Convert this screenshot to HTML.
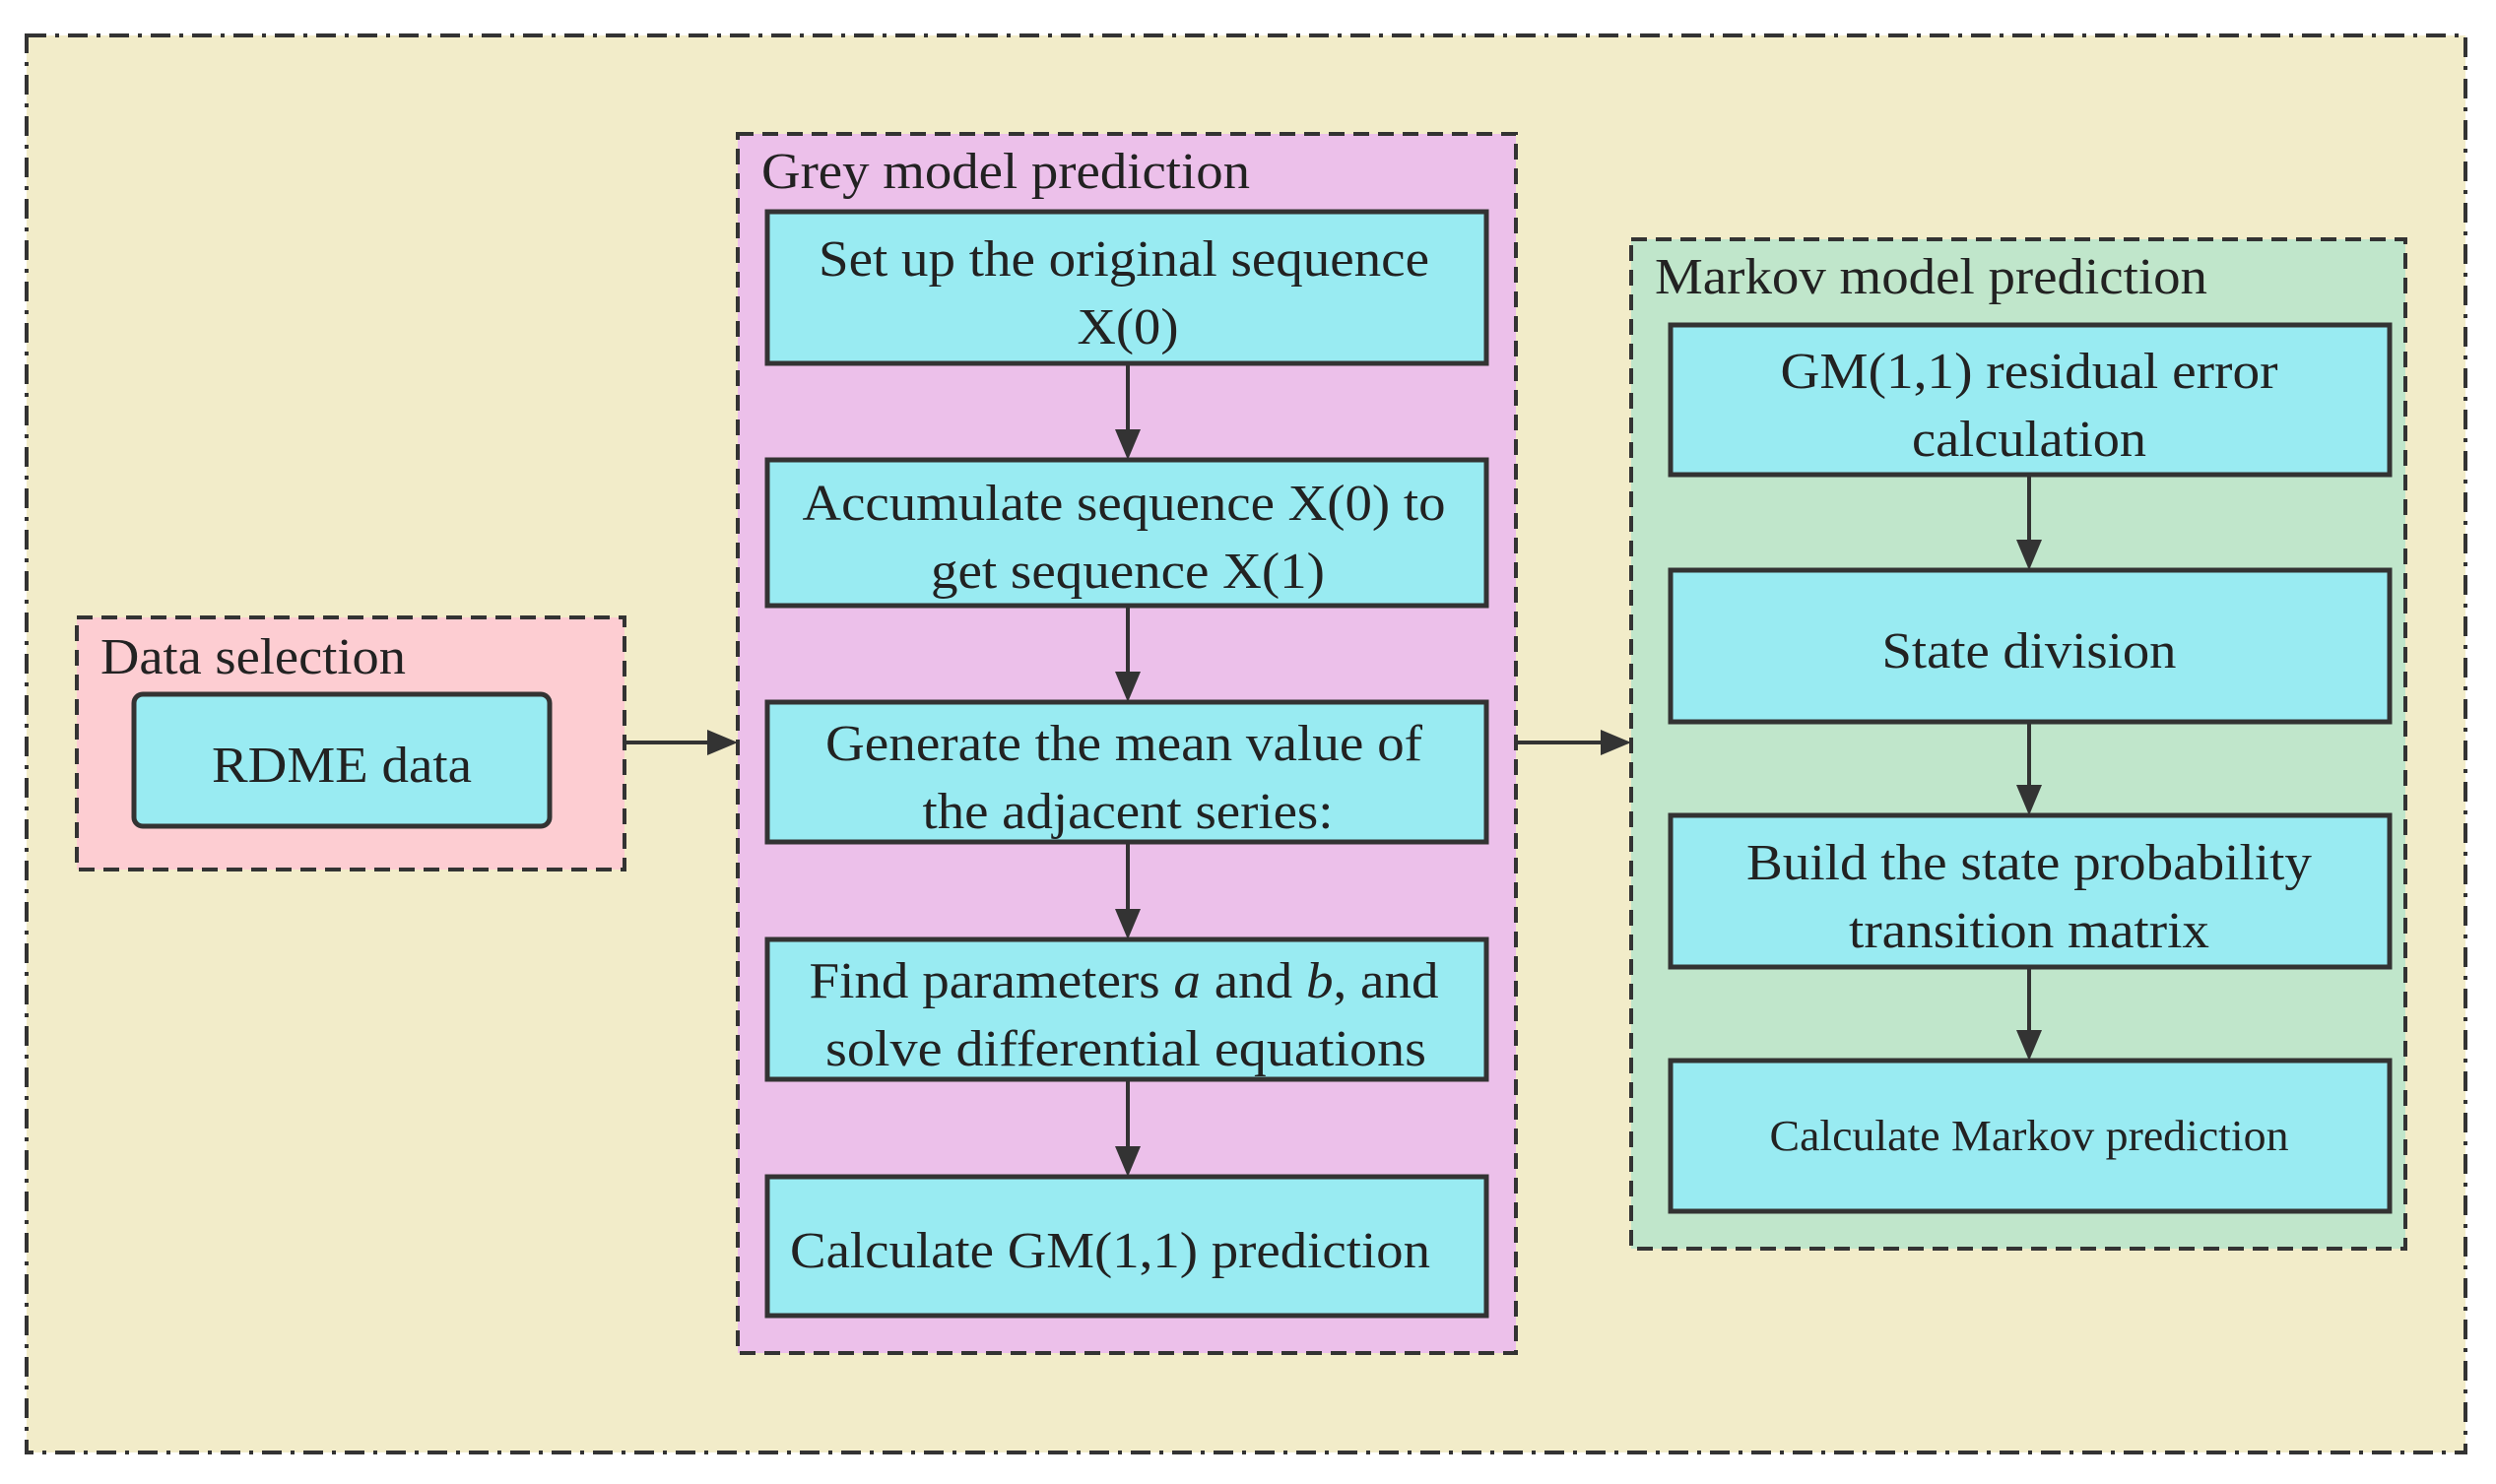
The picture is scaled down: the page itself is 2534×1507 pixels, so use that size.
<!DOCTYPE html>
<html><head><meta charset="utf-8"><style>html,body{margin:0;padding:0;background:#fff}svg{display:block}text{font-family:"Liberation Serif","Times New Roman",serif}</style></head>
<body>
<svg width="2534" height="1507" viewBox="0 0 2534 1507" xmlns="http://www.w3.org/2000/svg" fill="#222">
<rect x="27" y="36" width="2476" height="1439" fill="#f2ecc9" stroke="#333" stroke-width="4" stroke-dasharray="20 9 4 9"/>
<rect x="78" y="627" width="556" height="256" fill="#fdcdd2" stroke="#333" stroke-width="4" stroke-dasharray="16 9"/>
<rect x="749" y="136" width="790" height="1238" fill="#ecc0ea" stroke="#333" stroke-width="4" stroke-dasharray="16 9"/>
<rect x="1656" y="243" width="786" height="1025" fill="#c0e6cb" stroke="#333" stroke-width="4" stroke-dasharray="16 9"/>

<rect x="136" y="705" width="422" height="134" rx="9" fill="#99ebf2" stroke="#333" stroke-width="5"/>
<g fill="#99ebf2" stroke="#333" stroke-width="5">
<rect x="779" y="215" width="730" height="154"/>
<rect x="779" y="467" width="730" height="148"/>
<rect x="779" y="713" width="730" height="142"/>
<rect x="779" y="954" width="730" height="142"/>
<rect x="779" y="1195" width="730" height="141"/>
<rect x="1696" y="330" width="730" height="152"/>
<rect x="1696" y="579" width="730" height="154"/>
<rect x="1696" y="828" width="730" height="154"/>
<rect x="1696" y="1077" width="730" height="153"/>
</g>

<g stroke="#333" stroke-width="4">
<line x1="634" y1="754" x2="722" y2="754"/>
<line x1="1539" y1="754" x2="1628" y2="754"/>
<line x1="1145" y1="369" x2="1145" y2="440"/>
<line x1="1145" y1="615" x2="1145" y2="686"/>
<line x1="1145" y1="855" x2="1145" y2="927"/>
<line x1="1145" y1="1096" x2="1145" y2="1168"/>
<line x1="2060" y1="482" x2="2060" y2="552"/>
<line x1="2060" y1="733" x2="2060" y2="801"/>
<line x1="2060" y1="982" x2="2060" y2="1050"/>
</g>
<g fill="#333">
<polygon points="749,754 718,741 718,767"/>
<polygon points="1656,754 1625,741 1625,767"/>
<polygon points="1145,467 1132,436 1158,436"/>
<polygon points="1145,713 1132,682 1158,682"/>
<polygon points="1145,954 1132,923 1158,923"/>
<polygon points="1145,1195 1132,1164 1158,1164"/>
<polygon points="2060,579 2047,548 2073,548"/>
<polygon points="2060,828 2047,797 2073,797"/>
<polygon points="2060,1077 2047,1046 2073,1046"/>
</g>

<g font-size="52">
<text x="102" y="684" textLength="310" lengthAdjust="spacingAndGlyphs">Data selection</text>
<text x="773" y="191" textLength="496" lengthAdjust="spacingAndGlyphs">Grey model prediction</text>
<text x="1680" y="298" textLength="561" lengthAdjust="spacingAndGlyphs">Markov model prediction</text>
</g>
<g font-size="52" text-anchor="middle">
<text x="347" y="794" textLength="264" lengthAdjust="spacingAndGlyphs">RDME data</text>
<text x="1141" y="280" textLength="620" lengthAdjust="spacingAndGlyphs">Set up the original sequence</text>
<text x="1145" y="349" textLength="103" lengthAdjust="spacingAndGlyphs">X(0)</text>
<text x="1141" y="528" textLength="653" lengthAdjust="spacingAndGlyphs">Accumulate sequence X(0) to</text>
<text x="1145" y="597" textLength="400" lengthAdjust="spacingAndGlyphs">get sequence X(1)</text>
<text x="1141" y="772" textLength="606" lengthAdjust="spacingAndGlyphs">Generate the mean value of</text>
<text x="1145" y="841" textLength="417" lengthAdjust="spacingAndGlyphs">the adjacent series:</text>
<text x="1141" y="1013" textLength="639" lengthAdjust="spacingAndGlyphs">Find parameters <tspan font-style="italic">a</tspan> and <tspan font-style="italic">b</tspan>, and</text>
<text x="1143" y="1082" textLength="610" lengthAdjust="spacingAndGlyphs">solve differential equations</text>
<text x="1127" y="1287" textLength="650" lengthAdjust="spacingAndGlyphs">Calculate GM(1,1) prediction</text>
<text x="2060" y="394" textLength="505" lengthAdjust="spacingAndGlyphs">GM(1,1) residual error</text>
<text x="2060" y="463" textLength="238" lengthAdjust="spacingAndGlyphs">calculation</text>
<text x="2060" y="678" textLength="299" lengthAdjust="spacingAndGlyphs">State division</text>
<text x="2060" y="893" textLength="574" lengthAdjust="spacingAndGlyphs">Build the state probability</text>
<text x="2060" y="962" textLength="366" lengthAdjust="spacingAndGlyphs">transition matrix</text>
<text x="2060" y="1168" font-size="44" textLength="527" lengthAdjust="spacingAndGlyphs">Calculate Markov prediction</text>
</g>
</svg>
</body></html>
